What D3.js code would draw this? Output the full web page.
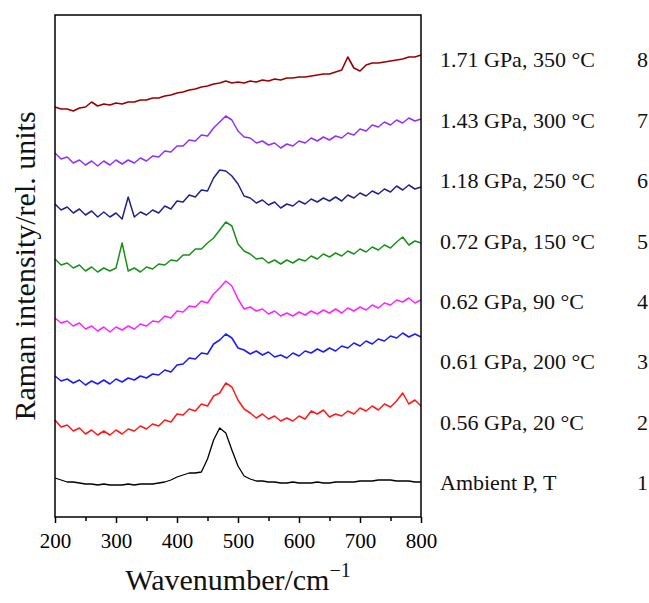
<!DOCTYPE html>
<html><head><meta charset="utf-8">
<script src="https://cdn.jsdelivr.net/npm/d3@7"></script>
<style>body{margin:0;background:#fff}</style>
</head><body><svg id="c" width="649" height="603"></svg>
<script>
// Raman shift grid (cm^-1)
const wavenumbers = [200,210,220,230,240,250,260,270,280,290,300,310,320,330,340,350,360,370,380,390,400,410,420,430,440,450,460,470,480,490,500,510,520,530,540,550,560,570,580,590,600,610,620,630,640,650,660,670,680,690,700,710,720,730,740,750,760,770,780,790,800];

// Stacked (offset) intensities, rel. units
const s1 = [78,74,70,70,68,66,66,64,66,64,64,64,66,64,66,66,66,68,70,74,80,84,88,88,90,116,154,178,168,134,102,82,76,72,72,70,70,68,68,70,68,68,68,70,68,68,70,70,70,70,72,72,72,74,74,74,72,72,72,70,70];
const s2 = [194,180,184,172,178,166,174,164,172,164,174,166,176,172,182,176,186,182,194,190,206,204,216,212,226,222,242,248,268,260,234,216,208,198,206,196,202,192,198,192,202,196,212,206,214,200,206,202,212,206,218,212,222,214,226,220,232,248,226,234,222];
const s3 = [282,272,276,268,274,264,272,266,274,266,276,270,278,274,282,278,286,284,294,290,304,306,318,316,328,326,346,354,366,358,338,334,326,332,324,330,320,324,318,328,322,332,328,336,330,338,332,342,338,348,342,352,346,356,352,362,358,368,360,366,360];
const s4 = [398,388,392,382,388,376,382,372,380,370,380,374,382,376,386,382,392,390,402,398,412,410,422,420,432,428,446,458,472,462,436,416,420,412,416,406,412,402,408,402,410,404,412,406,414,408,416,408,418,412,420,414,424,418,428,424,434,430,438,428,434];
const s5 = [516,504,508,498,504,492,500,490,498,492,498,548,492,498,490,500,496,506,504,514,512,524,524,536,536,548,558,574,590,582,546,532,526,516,518,508,514,506,514,508,516,512,522,516,526,520,528,522,532,526,536,530,540,534,544,538,550,560,544,552,548];
const s6 = [626,614,620,608,616,604,612,600,610,600,608,596,640,600,610,604,614,608,622,616,632,630,644,640,654,652,678,694,692,682,666,642,638,628,634,624,630,618,626,622,632,626,636,630,638,632,640,632,644,638,648,642,652,646,656,650,662,654,664,656,660];
const s7 = [728,716,720,708,714,704,712,702,712,704,714,706,714,708,718,712,722,720,732,730,742,742,754,752,764,762,778,790,802,794,772,760,758,748,752,744,748,738,746,742,752,748,758,752,760,754,762,758,768,764,776,772,784,780,790,784,794,788,798,792,796];
const s8 = [820,816,816,812,818,820,830,822,826,824,828,826,830,830,834,834,838,838,842,844,848,850,854,856,860,862,866,868,872,868,870,868,872,870,874,872,876,874,878,878,880,880,882,884,886,886,890,894,920,898,892,904,908,908,910,912,914,916,920,920,924];

const seriesValues = [s1, s2, s3, s4, s5, s6, s7, s8];
const seriesColors = ["#000000","#ff1a1a","#1a1aff","#ff22ff","#1a901a","#22228c","#9030ff","#990000"];
const seriesWidths = [1.3, 1.5, 1.5, 1.5, 1.5, 1.5, 1.5, 1.6];
const conditions = ["Ambient P, T","0.56 GPa, 20 °C","0.61 GPa, 200 °C","0.62 GPa, 90 °C","0.72 GPa, 150 °C","1.18 GPa, 250 °C","1.43 GPa, 300 °C","1.71 GPa, 350 °C"];
const spectrumNumbers = ["1","2","3","4","5","6","7","8"];
const xTicks = [200,300,400,500,600,700,800];
const xMinorTicks = [250,350,450,550,650,750];

const svg = d3.select("#c");
const L = 55, R = 421, T = 15, B = 517;
const font = "'Liberation Serif','Times New Roman',serif";

const x = d3.scaleLinear().domain([200, 800]).range([L, R]);
const y = d3.scaleLinear().domain([0, 1004]).range([B, T]);

const line = d3.line().x((d, i) => x(wavenumbers[i])).y(d => y(d));

svg.append("g").selectAll("path").data(seriesValues).join("path")
  .attr("d", d => line(d))
  .attr("fill", "none")
  .attr("stroke", (d, i) => seriesColors[i])
  .attr("stroke-width", (d, i) => seriesWidths[i])
  .attr("stroke-linejoin", "round");

// minor ticks
svg.append("g").attr("transform", `translate(0,${B})`)
  .call(d3.axisBottom(x).tickValues(xMinorTicks).tickSize(4).tickFormat(""))
  .call(g => g.select(".domain").remove())
  .call(g => g.selectAll("line").attr("stroke-width", 1.5));

// major ticks
const ax = svg.append("g").attr("transform", `translate(0,${B})`)
  .call(d3.axisBottom(x).tickValues(xTicks).tickSize(6).tickPadding(10).tickFormat(d3.format("d")));
ax.select(".domain").remove();
ax.selectAll("line").attr("stroke-width", 1.5);
ax.selectAll("text").attr("font-family", font).attr("font-size", 21).attr("fill", "#000");

// frame
svg.append("rect").attr("x", L).attr("y", T).attr("width", R - L).attr("height", B - T)
  .attr("fill", "none").attr("stroke", "#000").attr("stroke-width", 1.5);

// legend labels
const ly = d3.scalePoint().domain(spectrumNumbers).range([483, 60]);
const lg = svg.append("g").attr("font-family", font).attr("font-size", 22).attr("fill", "#111");
lg.selectAll("text.cond").data(conditions).join("text").attr("class", "cond")
  .attr("x", 440).attr("y", (d, i) => ly(spectrumNumbers[i])).attr("dy", "0.33em").text(d => d);
lg.selectAll("text.num").data(spectrumNumbers).join("text").attr("class", "num")
  .attr("x", 637).attr("y", d => ly(d)).attr("dy", "0.33em").text(d => d);

// axis titles
const xt = svg.append("text").attr("x", (L + R) / 2).attr("y", 590).attr("text-anchor", "middle")
  .attr("font-family", font).attr("font-size", 30).attr("fill", "#111");
xt.append("tspan").text("Wavenumber/cm");
xt.append("tspan").attr("font-size", 20).attr("dy", -13).text("−1");

svg.append("text").attr("transform", `translate(35,${(T + B) / 2}) rotate(-90)`)
  .attr("text-anchor", "middle").attr("font-family", font).attr("font-size", 30).attr("fill", "#111")
  .text("Raman intensity/rel. units");
</script></body></html>
